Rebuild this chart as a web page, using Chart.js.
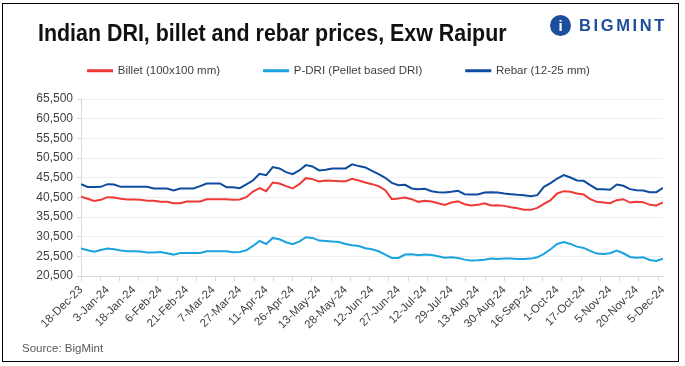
<!DOCTYPE html>
<html>
<head>
<meta charset="utf-8">
<script src="https://cdn.jsdelivr.net/npm/chart.js@4.4.1/dist/chart.umd.min.js"></script>
<style>
  body { margin: 0; background: #fff; font-family: 'Liberation Sans', Arial, sans-serif; }
  #box { position: relative; width: 685px; height: 366px; overflow: hidden; }
  #chart { position: absolute; left: 0; top: 0; }
  #frame { position: absolute; left: 2px; top: 3px; width: 677px; height: 359px; border: 1.5px solid #000; box-sizing: border-box; pointer-events: none; }
  #title { position: absolute; left: 38px; top: 22px; font-weight: bold; font-size: 23px; line-height: 23px; color: #111; white-space: nowrap; transform-origin: 0 0; }
  #logo { position: absolute; left: 550px; top: 15px; white-space: nowrap; }
  #logo .mark { display: inline-block; width: 21px; height: 21px; border-radius: 50%; background: #1d4e9e; color: #fff; font-weight: bold; font-size: 15px; line-height: 21px; text-align: center; vertical-align: middle; }
  #logo .word { display: inline-block; margin-left: 8px; font-weight: bold; font-size: 16.5px; letter-spacing: 2.6px; color: #1d4e9e; vertical-align: middle; }
  #source { position: absolute; left: 22px; top: 342px; font-size: 11.5px; color: #595959; }
</style>
</head>
<body>
<div id="box">
  <canvas id="chart" width="685" height="366"></canvas>
  <div id="title">Indian DRI, billet and rebar prices, Exw Raipur</div>
  <div id="logo"><span class="mark">i</span><span class="word">BIGMINT</span></div>
  <div id="source">Source: BigMint</div>
  <div id="frame"></div>
</div>
<script>
// one label every 4 samples
const tickLabels = ['18-Dec-23', '3-Jan-24', '18-Jan-24', '6-Feb-24', '21-Feb-24', '7-Mar-24', '27-Mar-24',
  '11-Apr-24', '26-Apr-24', '13-May-24', '28-May-24', '12-Jun-24', '27-Jun-24', '12-Jul-24', '29-Jul-24',
  '13-Aug-24', '30-Aug-24', '16-Sep-24', '1-Oct-24', '17-Oct-24', '5-Nov-24', '20-Nov-24', '5-Dec-24'];

const billet = [
  40630, 40120, 39600, 39860, 40540, 40460, 40120, 39950, 39950, 39860,
  39610, 39610, 39350, 39350, 39010, 39010, 39440, 39440, 39440, 40030,
  40030, 40030, 40030, 39860, 39950, 40540, 41980, 42830, 42070, 44280,
  44020, 43340, 42750, 43850, 45380, 45130, 44530, 44780, 44700, 44620,
  44620, 45200, 44780, 44280, 43850, 43340, 42320, 40030, 40200, 40460,
  40030, 39350, 39610, 39440, 39010, 38590, 39180, 39520, 38760, 38420,
  38590, 39010, 38420, 38500, 38330, 37990, 37740, 37320, 37320, 37830,
  38840, 39780, 41480, 42070, 41900, 41480, 41220, 40030, 39350, 39180,
  39010, 39780, 40030, 39180, 39350, 39270, 38590, 38420, 39180
];
const pdri = [
  27470, 27040, 26700, 27130, 27470, 27300, 26960, 26790, 26790, 26700,
  26450, 26450, 26620, 26280, 25940, 26360, 26360, 26360, 26360, 26790,
  26790, 26790, 26790, 26530, 26620, 27040, 28140, 29420, 28650, 30180,
  29840, 29080, 28570, 29250, 30350, 30180, 29500, 29420, 29250, 29160,
  28650, 28310, 28140, 27550, 27300, 26790, 25940, 25090, 25090, 25940,
  26020, 25770, 25940, 25850, 25510, 25170, 25260, 25090, 24660, 24410,
  24490, 24660, 24920, 24830, 24920, 24920, 24830, 24830, 24920, 25260,
  26110, 27300, 28650, 29160, 28650, 27970, 27640, 26870, 26190, 26110,
  26280, 26960, 26280, 25340, 25170, 25260, 24580, 24320, 24920
];
const rebar = [
  43850, 43150, 43150, 43170, 43850, 43770, 43170, 43170, 43170, 43170,
  43170, 42750, 42750, 42750, 42240, 42750, 42750, 42750, 43340, 44020,
  44020, 44020, 43090, 43090, 42830, 43770, 44780, 46480, 46150, 48180,
  47840, 46910, 46400, 47330, 48690, 48350, 47330, 47500, 47840, 47840,
  47840, 48900, 48440, 48100, 47250, 46400, 45460, 44190, 43600, 43680,
  42750, 42580, 42660, 42070, 41810, 41730, 41900, 42150, 41300, 41220,
  41220, 41730, 41810, 41730, 41480, 41300, 41130, 41050, 40800, 41050,
  43170, 44100, 45290, 46150, 45550, 44780, 44700, 43600, 42580, 42580,
  42410, 43770, 43430, 42580, 42320, 42240, 41810, 41810, 42920
];

const labelEvery = 4;
const markEvery = 32 / 11;   // tick marks sit between the labels
const lastIndex = billet.length - 1;

const title = document.getElementById('title');
title.style.transform = 'scaleX(' + (469 / title.offsetWidth) + ')';

function points(arr) {
  return arr.map((v, i) => ({ x: i, y: v }));
}

function isMark(v) {
  const k = v / markEvery;
  return Math.abs(k - Math.round(k)) < 1e-6;
}

// taller legend box so the plot starts lower
const legendHeight = {
  id: 'legendHeight',
  beforeInit(chart) {
    const fit = chart.legend.fit;
    chart.legend.fit = function () {
      fit.call(this);
      this.height = 78;
    };
  }
};

const textColor = '#404040';

new Chart(document.getElementById('chart'), {
  type: 'line',
  data: {
    datasets: [
      { label: 'Billet (100x100 mm)', data: points(billet), borderColor: '#ee3a36', backgroundColor: '#ee3a36' },
      { label: 'P-DRI (Pellet based DRI)', data: points(pdri), borderColor: '#1ba3e0', backgroundColor: '#1ba3e0' },
      { label: 'Rebar (12-25 mm)', data: points(rebar), borderColor: '#0d4c9e', backgroundColor: '#0d4c9e' }
    ]
  },
  options: {
    responsive: false,
    animation: false,
    layout: { padding: { top: 21, right: 22, bottom: 30, left: 15 } },
    elements: {
      line: { borderWidth: 2, tension: 0 },
      point: { radius: 0 }
    },
    plugins: {
      legend: {
        position: 'top',
        labels: {
          boxWidth: 24,
          boxHeight: 1,
          padding: 44,
          color: textColor,
          font: { family: 'Liberation Sans', size: 11.5 }
        }
      },
      tooltip: { enabled: false }
    },
    scales: {
      x: {
        type: 'linear',
        min: 0,
        max: lastIndex,
        afterBuildTicks(scale) {
          const vals = [];
          for (let i = 0; i <= lastIndex; i += labelEvery) vals.push(i);
          for (let k = 0; k * markEvery <= lastIndex; k++) {
            const v = k * 32 / 11;
            if (!vals.some(u => Math.abs(u - v) < 1e-6)) vals.push(v);
          }
          vals.sort((a, b) => a - b);
          scale.ticks = vals.map(v => ({ value: v }));
        },
        afterFit(scale) { scale.height = 60; },
        ticks: {
          autoSkip: false,
          minRotation: 45,
          maxRotation: 45,
          padding: 2,
          color: textColor,
          font: { family: 'Liberation Sans', size: 11.5 },
          callback: v => (Number.isInteger(v) && v % labelEvery === 0) ? tickLabels[v / labelEvery] : ''
        },
        grid: {
          drawOnChartArea: false,
          tickLength: 5,
          color: ctx => (ctx.tick && isMark(ctx.tick.value)) ? '#d9d9d9' : 'rgba(0,0,0,0)'
        },
        border: { color: '#d9d9d9' }
      },
      y: {
        min: 20500,
        max: 65500,
        afterFit(scale) { scale.width = 66; },
        ticks: {
          stepSize: 5000,
          padding: 4,
          color: textColor,
          font: { family: 'Liberation Sans', size: 12 },
          callback: v => v.toLocaleString('en-US')
        },
        grid: { color: '#efefef', tickLength: 4, tickColor: '#d9d9d9' },
        border: { color: '#d9d9d9' }
      }
    }
  },
  plugins: [legendHeight]
});
</script>
</body>
</html>
